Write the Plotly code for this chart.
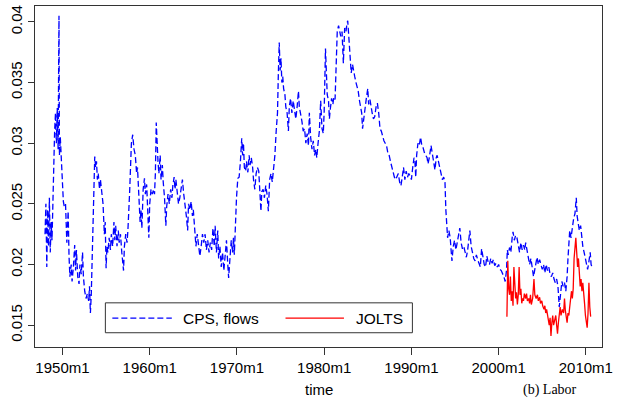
import plotly.graph_objects as go

# ---------------- data ----------------
cps_time = [
    1948.0, 1948.1, 1948.2, 1948.3, 1948.4, 1948.5, 1948.6, 1948.7, 1948.8, 1948.9,
    1949.0, 1949.1, 1949.2, 1949.3, 1949.4, 1949.5, 1949.6, 1949.65, 1949.75, 1949.85,
    1950.0, 1950.1, 1950.2, 1950.35, 1950.5, 1950.65, 1950.75, 1950.85, 1951.0, 1951.1,
    1951.25, 1951.4, 1951.5, 1951.6, 1951.75, 1951.9, 1952.0, 1952.15, 1952.3, 1952.4,
    1952.55, 1952.7, 1952.85, 1953.0, 1953.1, 1953.2, 1953.3, 1953.45, 1953.6, 1953.7,
    1953.8, 1953.9, 1954.0, 1954.1, 1954.25, 1954.35, 1954.5, 1954.65, 1954.8, 1954.9,
    1955.0, 1955.1, 1955.2, 1955.35, 1955.5, 1955.6, 1955.75, 1955.9, 1956.0, 1956.1,
    1956.25, 1956.4, 1956.5, 1956.65, 1956.8, 1957.0, 1957.1, 1957.25, 1957.4, 1957.5,
    1957.7, 1957.9, 1958.05, 1958.2, 1958.35, 1958.5, 1958.6, 1958.75, 1958.9, 1959.0,
    1959.1, 1959.25, 1959.4, 1959.5, 1959.65, 1959.8, 1959.9, 1960.0, 1960.15, 1960.3,
    1960.45, 1960.55, 1960.65, 1960.75, 1960.85, 1960.95, 1961.05, 1961.2, 1961.3, 1961.45,
    1961.55, 1961.7, 1961.85, 1961.95, 1962.1, 1962.25, 1962.4, 1962.55, 1962.65, 1962.8,
    1962.9, 1963.0, 1963.15, 1963.3, 1963.45, 1963.6, 1963.75, 1963.9, 1964.05, 1964.2,
    1964.35, 1964.45, 1964.6, 1964.75, 1964.9, 1965.0, 1965.15, 1965.3, 1965.45, 1965.6,
    1965.75, 1965.9, 1966.05, 1966.2, 1966.35, 1966.5, 1966.65, 1966.8, 1966.95, 1967.1,
    1967.25, 1967.4, 1967.5, 1967.65, 1967.8, 1967.9, 1968.05, 1968.2, 1968.35, 1968.5,
    1968.65, 1968.8, 1968.95, 1969.05, 1969.2, 1969.35, 1969.5, 1969.6, 1969.7, 1969.8,
    1969.95, 1970.1, 1970.25, 1970.4, 1970.55, 1970.65, 1970.75, 1970.85, 1971.0, 1971.1,
    1971.25, 1971.4, 1971.5, 1971.65, 1971.8, 1971.9, 1972.05, 1972.2, 1972.35, 1972.5,
    1972.6, 1972.75, 1972.85, 1973.0, 1973.15, 1973.3, 1973.45, 1973.6, 1973.75, 1973.9,
    1974.05, 1974.2, 1974.35, 1974.5, 1974.65, 1974.75, 1974.85, 1974.95, 1975.05, 1975.15,
    1975.25, 1975.35, 1975.5, 1975.6, 1975.75, 1975.9, 1976.0, 1976.15, 1976.3, 1976.45,
    1976.6, 1976.75, 1976.9, 1977.05, 1977.15, 1977.3, 1977.45, 1977.6, 1977.75, 1977.9,
    1978.05, 1978.2, 1978.3, 1978.45, 1978.6, 1978.75, 1978.9, 1979.05, 1979.15, 1979.3,
    1979.45, 1979.6, 1979.75, 1979.9, 1980.0, 1980.15, 1980.25, 1980.35, 1980.5, 1980.6,
    1980.7, 1980.85, 1981.0, 1981.1, 1981.25, 1981.4, 1981.5, 1981.65, 1981.8, 1981.9,
    1982.05, 1982.2, 1982.35, 1982.5, 1982.6, 1982.7, 1982.85, 1982.95, 1983.1, 1983.25,
    1983.35, 1983.5, 1983.65, 1983.8, 1983.9, 1984.05, 1984.2, 1984.3, 1984.4, 1984.55,
    1984.7, 1984.85, 1985.0, 1985.1, 1985.25, 1985.4, 1985.5, 1985.65, 1985.8, 1985.95,
    1986.1, 1986.25, 1986.4, 1986.55, 1986.7, 1986.85, 1987.0, 1987.15, 1987.3, 1987.45,
    1987.6, 1987.75, 1987.9, 1988.05, 1988.2, 1988.35, 1988.5, 1988.65, 1988.8, 1988.95,
    1989.1, 1989.25, 1989.4, 1989.55, 1989.7, 1989.85, 1990.0, 1990.15, 1990.3, 1990.4,
    1990.5, 1990.6, 1990.75, 1990.9, 1991.05, 1991.2, 1991.35, 1991.5, 1991.65, 1991.8,
    1991.9, 1992.05, 1992.25, 1992.4, 1992.55, 1992.7, 1992.85, 1992.95, 1993.1, 1993.25,
    1993.4, 1993.55, 1993.7, 1993.85, 1993.95, 1994.05, 1994.15, 1994.3, 1994.45, 1994.55,
    1994.65, 1994.8, 1994.95, 1995.1, 1995.25, 1995.4, 1995.55, 1995.7, 1995.85, 1996.0,
    1996.15, 1996.3, 1996.45, 1996.6, 1996.7, 1996.85, 1997.0, 1997.15, 1997.3, 1997.45,
    1997.6, 1997.75, 1997.9, 1998.05, 1998.2, 1998.35, 1998.5, 1998.65, 1998.8, 1998.95,
    1999.1, 1999.25, 1999.4, 1999.55, 1999.7, 1999.85, 2000.0, 2000.15, 2000.3, 2000.45,
    2000.6, 2000.75, 2000.9, 2001.0, 2001.1, 2001.25, 2001.4, 2001.55, 2001.65, 2001.8,
    2001.95, 2002.1, 2002.25, 2002.4, 2002.55, 2002.7, 2002.85, 2003.0, 2003.1, 2003.25,
    2003.4, 2003.55, 2003.7, 2003.85, 2004.0, 2004.1, 2004.25, 2004.4, 2004.55, 2004.7,
    2004.85, 2005.0, 2005.15, 2005.3, 2005.45, 2005.6, 2005.75, 2005.9, 2006.05, 2006.2,
    2006.35, 2006.5, 2006.65, 2006.8, 2006.95, 2007.1, 2007.25, 2007.4, 2007.55, 2007.7,
    2007.85, 2007.95, 2008.05, 2008.15, 2008.3, 2008.45, 2008.6, 2008.75, 2008.9, 2009.0,
    2009.1, 2009.25, 2009.4, 2009.5, 2009.65, 2009.8, 2009.95, 2010.1, 2010.2, 2010.3,
    2010.4, 2010.5, 2010.6, 2010.7,
]
cps_rate = [
    0.0225, 0.0250, 0.0198, 0.0245, 0.0215, 0.0255, 0.0210, 0.0235, 0.0220, 0.0260,
    0.0280, 0.0310, 0.0325, 0.0300, 0.0329, 0.0295, 0.0405, 0.0290, 0.0305, 0.0285,
    0.0260, 0.0252, 0.0248, 0.0250, 0.0218, 0.0244, 0.0207, 0.0190, 0.0200, 0.0186,
    0.0198, 0.0216, 0.0195, 0.0212, 0.0190, 0.0184, 0.0200, 0.0192, 0.0210, 0.0190,
    0.0178, 0.0172, 0.0176, 0.0170, 0.0182, 0.0160, 0.0175, 0.0220, 0.0270, 0.0289,
    0.0280, 0.0285, 0.0270, 0.0275, 0.0262, 0.0270, 0.0260, 0.0250, 0.0225, 0.0235,
    0.0197, 0.0215, 0.0210, 0.0222, 0.0212, 0.0225, 0.0215, 0.0235, 0.0220, 0.0232,
    0.0215, 0.0228, 0.0218, 0.0225, 0.0210, 0.0195, 0.0215, 0.0225, 0.0218, 0.0228,
    0.0260, 0.0300, 0.0307, 0.0295, 0.0290, 0.0275, 0.0280, 0.0255, 0.0235, 0.0245,
    0.0230, 0.0262, 0.0271, 0.0258, 0.0266, 0.0240, 0.0222, 0.0250, 0.0262, 0.0258,
    0.0262, 0.0258, 0.0275, 0.0317, 0.0295, 0.0285, 0.0275, 0.0290, 0.0270, 0.0282,
    0.0268, 0.0255, 0.0232, 0.0248, 0.0258, 0.0250, 0.0262, 0.0255, 0.0265, 0.0272,
    0.0262, 0.0270, 0.0260, 0.0250, 0.0255, 0.0265, 0.0270, 0.0258, 0.0250, 0.0240,
    0.0228, 0.0250, 0.0245, 0.0252, 0.0240, 0.0245, 0.0230, 0.0215, 0.0225, 0.0218,
    0.0207, 0.0215, 0.0225, 0.0218, 0.0225, 0.0212, 0.0220, 0.0210, 0.0218, 0.0212,
    0.0230, 0.0215, 0.0232, 0.0210, 0.0228, 0.0205, 0.0215, 0.0198, 0.0210, 0.0195,
    0.0212, 0.0220, 0.0200, 0.0189, 0.0205, 0.0220, 0.0210, 0.0222, 0.0208, 0.0233,
    0.0255, 0.0271, 0.0272, 0.0285, 0.0304, 0.0290, 0.0300, 0.0280, 0.0277, 0.0285,
    0.0276, 0.0290, 0.0282, 0.0288, 0.0280, 0.0270, 0.0262, 0.0275, 0.0280, 0.0277,
    0.0265, 0.0244, 0.0260, 0.0262, 0.0255, 0.0265, 0.0258, 0.0244, 0.0270, 0.0275,
    0.0268, 0.0278, 0.0290, 0.0310, 0.0325, 0.0358, 0.0383, 0.0360, 0.0370, 0.0350,
    0.0355, 0.0345, 0.0340, 0.0330, 0.0325, 0.0310, 0.0330, 0.0337, 0.0325, 0.0335,
    0.0327, 0.0320, 0.0330, 0.0343, 0.0330, 0.0325, 0.0318, 0.0310, 0.0312, 0.0300,
    0.0308, 0.0298, 0.0325, 0.0305, 0.0295, 0.0302, 0.0290, 0.0295, 0.0288, 0.0300,
    0.0310, 0.0335, 0.0312, 0.0308, 0.0326, 0.0378, 0.0350, 0.0340, 0.0335, 0.0320,
    0.0328, 0.0337, 0.0332, 0.0338, 0.0336, 0.0387, 0.0392, 0.0397, 0.0390, 0.0388,
    0.0392, 0.0366, 0.0395, 0.0392, 0.0398, 0.0401, 0.0385, 0.0370, 0.0358, 0.0365,
    0.0360, 0.0355, 0.0350, 0.0345, 0.0343, 0.0335, 0.0330, 0.0325, 0.0312, 0.0322,
    0.0330, 0.0338, 0.0345, 0.0332, 0.0336, 0.0328, 0.0325, 0.0320, 0.0322, 0.0330,
    0.0333, 0.0325, 0.0312, 0.0310, 0.0305, 0.0302, 0.0300, 0.0298, 0.0292, 0.0290,
    0.0285, 0.0280, 0.0277, 0.0272, 0.0270, 0.0272, 0.0275, 0.0268, 0.0265, 0.0272,
    0.0280, 0.0270, 0.0277, 0.0272, 0.0275, 0.0273, 0.0270, 0.0280, 0.0288, 0.0285,
    0.0272, 0.0290, 0.0300, 0.0298, 0.0305, 0.0298, 0.0296, 0.0292, 0.0290, 0.0288,
    0.0283, 0.0288, 0.0298, 0.0290, 0.0282, 0.0278, 0.0288, 0.0290, 0.0285, 0.0280,
    0.0275, 0.0270, 0.0272, 0.0268, 0.0245, 0.0235, 0.0222, 0.0228, 0.0222, 0.0212,
    0.0203, 0.0215, 0.0220, 0.0212, 0.0218, 0.0222, 0.0230, 0.0218, 0.0213, 0.0215,
    0.0210, 0.0206, 0.0212, 0.0222, 0.0228, 0.0215, 0.0208, 0.0205, 0.0203, 0.0208,
    0.0204, 0.0200, 0.0198, 0.0213, 0.0205, 0.0200, 0.0198, 0.0207, 0.0202, 0.0200,
    0.0205, 0.0201, 0.0204, 0.0199, 0.0201, 0.0198, 0.0200, 0.0196, 0.0195, 0.0193,
    0.0190, 0.0186, 0.0195, 0.0212, 0.0208, 0.0214, 0.0210, 0.0222, 0.0227, 0.0220,
    0.0224, 0.0222, 0.0215, 0.0210, 0.0218, 0.0212, 0.0216, 0.0212, 0.0218, 0.0212,
    0.0205, 0.0200, 0.0205, 0.0198, 0.0190, 0.0194, 0.0200, 0.0206, 0.0200, 0.0204,
    0.0200, 0.0196, 0.0200, 0.0193, 0.0200, 0.0195, 0.0198, 0.0192, 0.0190, 0.0193,
    0.0188, 0.0185, 0.0188, 0.0182, 0.0165, 0.0178, 0.0186, 0.0182, 0.0185, 0.0178,
    0.0190, 0.0205, 0.0215, 0.0228, 0.0222, 0.0232, 0.0238, 0.0242, 0.0255, 0.0240,
    0.0235, 0.0228, 0.0232, 0.0222, 0.0215, 0.0210, 0.0205, 0.0200, 0.0196, 0.0200,
    0.0205, 0.0210, 0.0200, 0.0198,
]

jolts_time = [
    2000.95, 2001.05, 2001.15, 2001.25, 2001.35, 2001.45, 2001.55, 2001.65, 2001.75, 2001.85,
    2001.95, 2002.05, 2002.15, 2002.25, 2002.35, 2002.45, 2002.55, 2002.65, 2002.75, 2002.85,
    2002.95, 2003.1, 2003.2, 2003.3, 2003.45, 2003.55, 2003.65, 2003.75, 2003.9, 2004.05,
    2004.15, 2004.3, 2004.45, 2004.55, 2004.7, 2004.8, 2004.95, 2005.05, 2005.2, 2005.3,
    2005.4, 2005.5, 2005.6, 2005.7, 2005.8, 2005.9, 2006.0, 2006.1, 2006.2, 2006.3,
    2006.45, 2006.55, 2006.65, 2006.75, 2006.85, 2006.95, 2007.05, 2007.15, 2007.3, 2007.45,
    2007.55, 2007.65, 2007.75, 2007.85, 2007.95, 2008.05, 2008.15, 2008.25, 2008.35, 2008.45,
    2008.55, 2008.65, 2008.75, 2008.85, 2008.95, 2009.05, 2009.15, 2009.25, 2009.35, 2009.45,
    2009.55, 2009.65, 2009.75, 2009.85, 2009.95, 2010.05, 2010.15, 2010.25, 2010.35, 2010.45,
    2010.55,
]
jolts_rate = [
    0.0157, 0.0203, 0.0180, 0.0175, 0.0190, 0.0170, 0.0178, 0.0166, 0.0198, 0.0180,
    0.0172, 0.0177, 0.0167, 0.0175, 0.0198, 0.0175, 0.0180, 0.0168, 0.0172, 0.0170,
    0.0176, 0.0172, 0.0176, 0.0170, 0.0172, 0.0168, 0.0175, 0.0167, 0.0172, 0.0188,
    0.0175, 0.0172, 0.0175, 0.0170, 0.0173, 0.0168, 0.0170, 0.0166, 0.0163, 0.0166,
    0.0160, 0.0163, 0.0158, 0.0155, 0.0150, 0.0156, 0.0141, 0.0152, 0.0158, 0.0150,
    0.0155, 0.0158, 0.0150, 0.0143, 0.0152, 0.0160, 0.0165, 0.0158, 0.0163, 0.0160,
    0.0172, 0.0162, 0.0155, 0.0152, 0.0160, 0.0158, 0.0165, 0.0175, 0.0178, 0.0172,
    0.0180, 0.0205, 0.0215, 0.0222, 0.0210, 0.0198, 0.0205, 0.0190, 0.0182, 0.0188,
    0.0178, 0.0185, 0.0172, 0.0168, 0.0158, 0.0150, 0.0148, 0.0160, 0.0185, 0.0165,
    0.0157,
]

tick_years = [1950, 1960, 1970, 1980, 1990, 2000, 2010]
tick_labels = [f"{y}m1" for y in tick_years]
y_ticks = [0.015, 0.02, 0.025, 0.03, 0.035, 0.04]
y_tick_labels = ["0.015", "0.02", "0.025", "0.03", "0.035", "0.04"]
series_names = ["CPS, flows", "JOLTS"]
series_colors = ["#0000FF", "#FF0000"]

FONT = "Liberation Sans, Arial, Helvetica, sans-serif"

fig = go.Figure()
fig.add_trace(go.Scatter(x=cps_time, y=cps_rate, mode="lines", name=series_names[0],
                         line=dict(color=series_colors[0], width=1.3, dash="6px,3px")))
fig.add_trace(go.Scatter(x=jolts_time, y=jolts_rate, mode="lines", name=series_names[1],
                         line=dict(color=series_colors[1], width=1.3)))

fig.update_layout(
    width=618, height=402,
    margin=dict(l=35, r=11, t=5, b=55),
    paper_bgcolor="white", plot_bgcolor="white",
    showlegend=False,
    font=dict(family=FONT, size=15, color="black"),
)
fig.update_xaxes(
    range=[1946.85, 2011.85], tickmode="array", tickvals=tick_years, ticktext=tick_labels,
    showgrid=False, zeroline=False, showline=True, mirror=True, linecolor="#333", linewidth=1,
    ticks="outside", ticklen=7, tickcolor="#333", tickwidth=1,
    tickfont=dict(family=FONT, size=15, color="black"),
)
fig.update_yaxes(
    range=[0.0132, 0.04131], tickmode="array", tickvals=y_ticks, ticktext=y_tick_labels,
    showgrid=False, zeroline=False, showline=True, mirror=True, linecolor="#333", linewidth=1,
    ticks="outside", ticklen=6, tickcolor="#333", tickwidth=1, tickangle=-90,
    tickfont=dict(family=FONT, size=15, color="black"),
)

# axis title
fig.add_annotation(text="time", xref="paper", yref="paper", x=0.5, y=-0.1257,
                   xanchor="center", yanchor="middle", showarrow=False,
                   font=dict(family=FONT, size=15, color="black"))

# legend box (drawn by hand, as in the R original)
lx0, lx1, ly0, ly1 = 0.1241, 0.6656, 0.0418, 0.1295
ly = 0.0848
fig.add_shape(type="rect", xref="paper", yref="paper", x0=lx0, x1=lx1, y0=ly0, y1=ly1,
              line=dict(color="#333", width=1), fillcolor="white", layer="above")
fig.add_shape(type="line", xref="paper", yref="paper", x0=0.1364, x1=0.2413, y0=ly, y1=ly,
              line=dict(color=series_colors[0], width=1.3, dash="6px,3px"), layer="above")
fig.add_shape(type="line", xref="paper", yref="paper", x0=0.4418, x1=0.5449, y0=ly, y1=ly,
              line=dict(color=series_colors[1], width=1.3), layer="above")
fig.add_annotation(text=series_names[0], xref="paper", yref="paper", x=0.2583, y=ly,
                   xanchor="left", yanchor="middle", showarrow=False,
                   font=dict(family=FONT, size=15.5, color="black"))
fig.add_annotation(text=series_names[1], xref="paper", yref="paper", x=0.5624, y=ly,
                   xanchor="left", yanchor="middle", showarrow=False,
                   font=dict(family=FONT, size=15.5, color="black"))

# caption at the bottom-right corner, kept fully inside the page
fig.add_annotation(text="(b) Labor", xref="paper", yref="paper", x=0.8566, y=-0.1550,
                   xanchor="left", yanchor="bottom", showarrow=False,
                   font=dict(family="Liberation Serif, Times New Roman, serif", size=14, color="black"))

fig.write_html("out.html")
